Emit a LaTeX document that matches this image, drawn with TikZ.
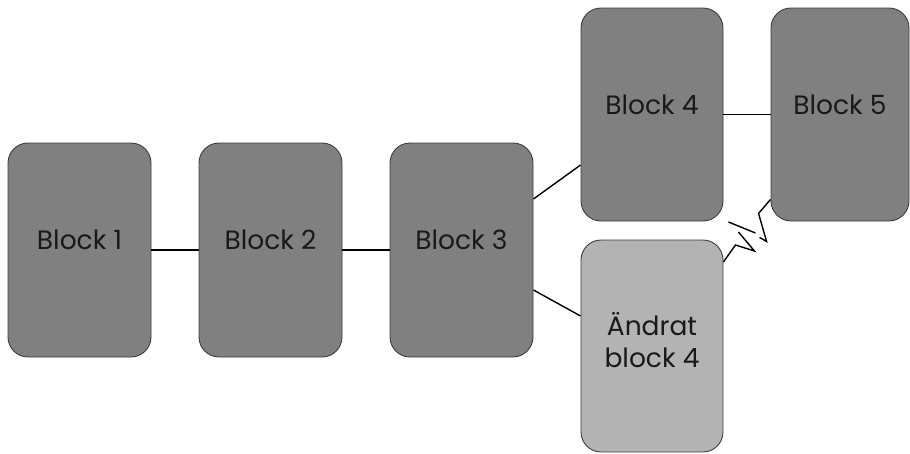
\documentclass[tikz,border=0pt]{standalone}
\usepackage{fontspec}
\setmainfont{Poppins}
\definecolor{darkfill}{RGB}{128,128,128}
\definecolor{lightfill}{RGB}{179,179,179}
\definecolor{edge}{RGB}{60,60,60}
\begin{document}
\begin{tikzpicture}[x=1pt,y=-1pt,
  blk/.style={draw=edge, line width=0.9pt, fill=darkfill, rounded corners=20pt,
    minimum width=143pt, minimum height=214pt, inner sep=0pt},
  lbl/.style={font=\fontsize{26.5}{32}\selectfont, text=black!90, align=center, inner sep=0pt},
  conn/.style={draw=black, line width=1.4pt}]
\useasboundingbox (0,0) rectangle (910,453);
\node[blk] (b1) at (79.5,250) {};
\node[blk] (b2) at (270.5,250) {};
\node[blk] (b3) at (461.5,250) {};
\node[blk, minimum width=142pt, minimum height=213pt] (b4) at (652,114.5) {};
\node[blk, minimum width=138pt, minimum height=213pt] (b5) at (840,114.5) {};
\node[blk, fill=lightfill, minimum width=142pt, minimum height=212pt] (b4n) at (652,346) {};
\node[lbl] (t1) at (79.5,240) {Block 1};
\node[lbl] (t2) at (270.5,240) {Block 2};
\node[lbl] (t3) at (461.5,240) {Block 3};
\node[lbl] (t4) at (652,105) {Block 4};
\node[lbl] (t5) at (840,105) {Block 5};
\node[lbl] (t4n) at (652,340) {Ändrat\\block 4};
\draw[conn] (b1) -- (b2);
\draw[conn] (b2) -- (b3);
\draw[conn] (b4) -- (b5);
\draw[conn] ([yshift=51pt]b3.east) -- ([yshift=-50.5pt]b4.west);
\draw[conn] ([yshift=-40pt]b3.east) -- ([yshift=30pt]b4n.west);
\draw[conn, line join=miter] ([yshift=84pt]b4n.east) -- ++(12,-17) -- ++(19,6) -- ++(-16,-19) coordinate (zl);
\draw[conn] (zl) ++(-10,-10) -- ++(27,11);
\draw[conn, line join=miter] ([yshift=22pt]b5.south west) -- ++(-12,14) -- ++(8,28) coordinate (zr) -- ++(-7,-4);
\end{tikzpicture}
\end{document}
